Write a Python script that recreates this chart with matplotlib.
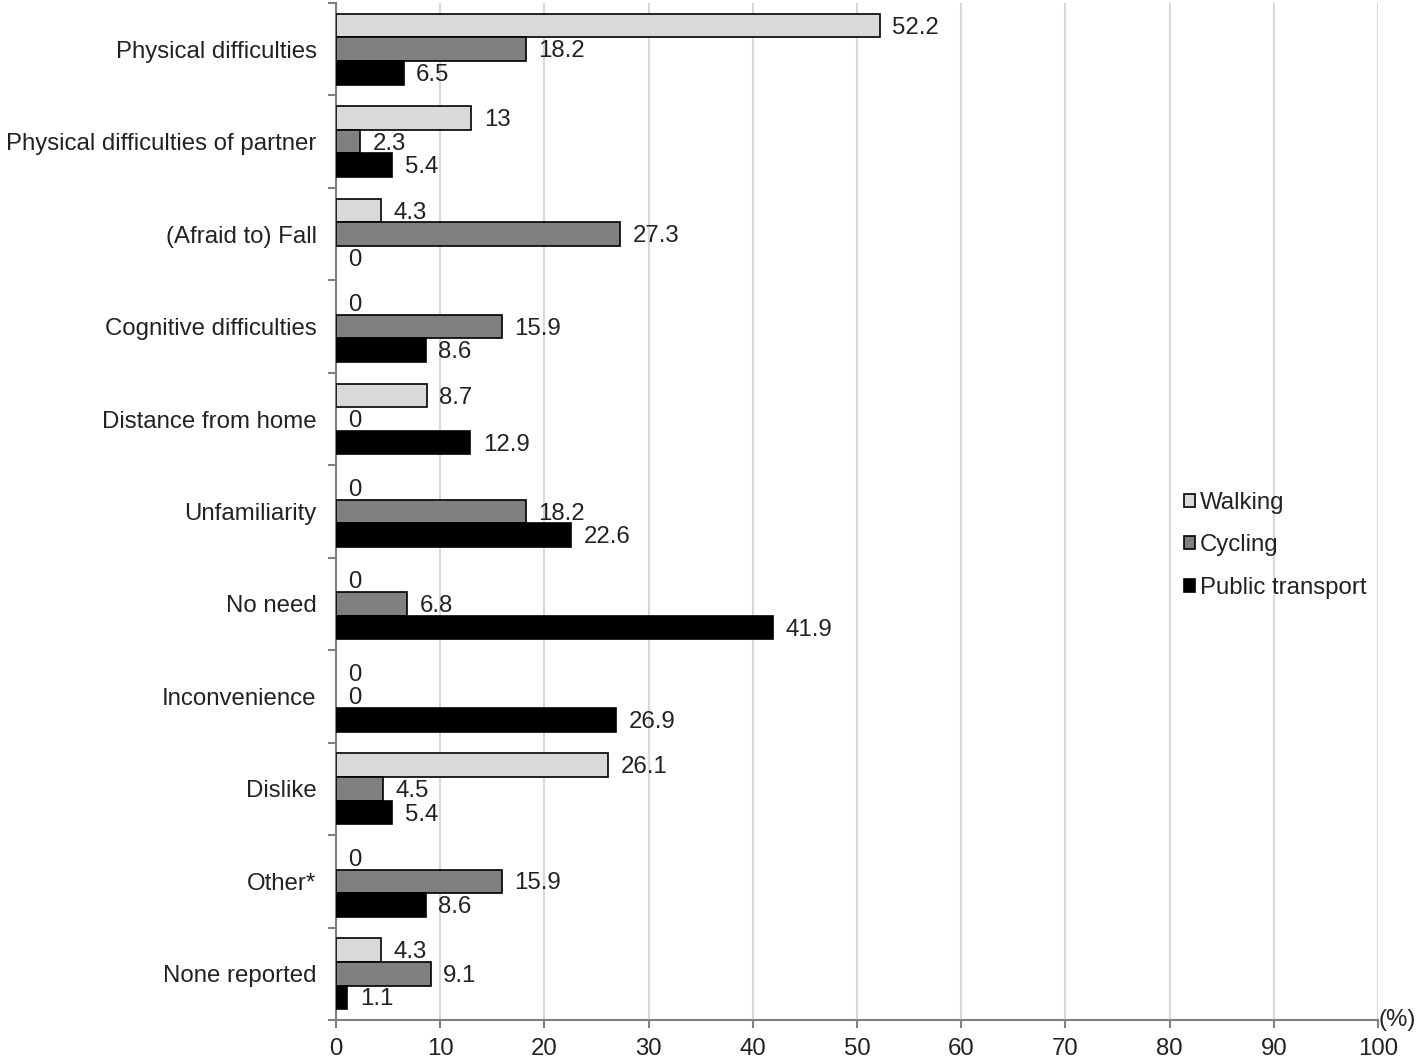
import matplotlib
matplotlib.use("Agg")
import matplotlib.pyplot as plt
import numpy as np

plt.rcParams['font.family'] = ['Liberation Sans', 'DejaVu Sans']

categories = ["Physical difficulties", "Physical difficulties of partner", "(Afraid to) Fall",
              "Cognitive difficulties", "Distance from home", "Unfamiliarity", "No need",
              "Inconvenience", "Dislike", "Other*", "None reported"]
walking = [52.2, 13, 4.3, 0, 8.7, 0, 0, 0, 26.1, 0, 4.3]
cycling = [18.2, 2.3, 27.3, 15.9, 0, 18.2, 6.8, 0, 4.5, 15.9, 9.1]
transit = [6.5, 5.4, 0, 8.6, 12.9, 22.6, 41.9, 26.9, 5.4, 8.6, 1.1]
series_names = ["Walking", "Cycling", "Public transport"]
xticks = list(range(0, 101, 10))

colors = ["#d9d9d9", "#808080", "#000000"]

fig = plt.figure(figsize=(14.18, 10.6), dpi=100)
ax = fig.add_axes([336/1418, 40/1060, (1378-336)/1418, (1020-3)/1060])

n = len(categories)
y = np.arange(n)
h = 0.255
offsets = [-h, 0, h]
fs = 17.3
tc = "#222222"
for vals, off, c, name in zip([walking, cycling, transit], offsets, colors, series_names):
    lws = [1.2 if v > 0 else 0 for v in vals]
    ax.barh(y + off, vals, height=h, color=c, edgecolor="black", linewidth=lws,
            label=name, zorder=3)
    for yi, v in zip(y + off, vals):
        lab = f"{v:g}"
        ax.annotate(lab, xy=(v, yi), xytext=(9, -1.5), textcoords="offset points",
                    ha="left", va="center", fontsize=fs, color=tc, zorder=4)

ax.set_xlim(0, 100)
ax.set_ylim(n - 0.5, -0.5)
ax.set_xticks(xticks)
ax.set_xticklabels([str(t) for t in xticks], fontsize=fs, color=tc)
ax.set_yticks(y)
ax.set_yticklabels(categories, fontsize=fs, color=tc)
ax.set_yticks(np.arange(-0.5, n, 1.0), minor=True)
ax.tick_params(axis="y", which="major", length=0, pad=14)
ax.tick_params(axis="y", which="minor", length=6, color="#808080", width=1.5)
ax.tick_params(axis="x", which="major", length=6, color="#808080", width=1.5, pad=7)
ax.grid(axis="x", color="#d9d9d9", linewidth=1.5, zorder=0)
for s in ["top", "right"]:
    ax.spines[s].set_visible(False)
for s in ["left", "bottom"]:
    ax.spines[s].set_color("#808080")
    ax.spines[s].set_linewidth(1.5)

ax.text(1.0, 0.0, "(%)", transform=ax.transAxes, ha="left", va="center", fontsize=fs,
        color=tc)

leg = fig.legend(loc="upper left", bbox_to_anchor=(1172/1418, 1 - 480/1060), frameon=False,
                 fontsize=fs, handlelength=0.45, handleheight=0.45, handletextpad=0.2,
                 labelspacing=0.85, borderpad=0, labelcolor=tc)

fig.savefig("out.png", dpi=100, facecolor="white")
